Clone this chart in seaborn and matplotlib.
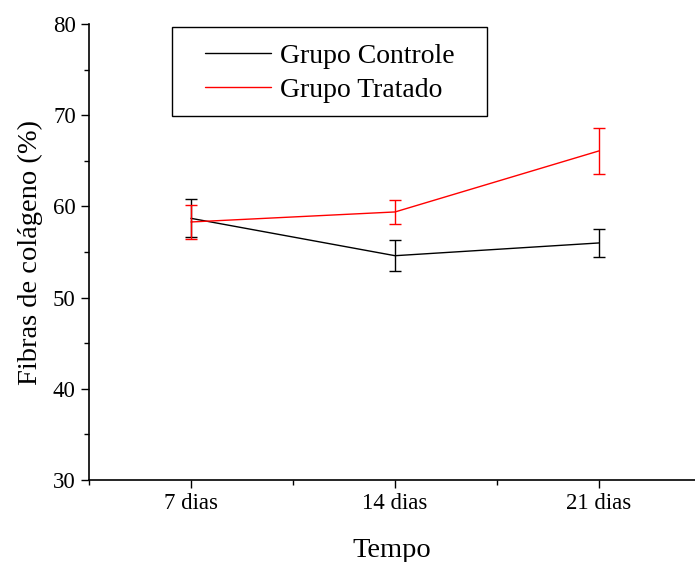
import matplotlib
matplotlib.use('Agg')
import matplotlib.pyplot as plt
import pandas as pd
import seaborn as sns
from matplotlib.patches import Rectangle
from matplotlib.ticker import MultipleLocator

tempos = ['7 dias', '14 dias', '21 dias']
controle_media = [58.7, 54.6, 56.0]
controle_erro = [2.1, 1.7, 1.5]
tratado_media = [58.3, 59.4, 66.1]
tratado_erro = [1.9, 1.3, 2.5]

df = pd.DataFrame({
    'pos': [1, 2, 3] * 2,
    'valor': controle_media + tratado_media,
    'erro': controle_erro + tratado_erro,
    'grupo': ['Grupo Controle'] * 3 + ['Grupo Tratado'] * 3,
})

sns.set_style('ticks')
plt.rcParams['font.family'] = ['Liberation Serif', 'DejaVu Serif']
plt.rcParams['text.color'] = 'black'
plt.rcParams['axes.labelcolor'] = 'black'
plt.rcParams['xtick.color'] = 'black'
plt.rcParams['ytick.color'] = 'black'

fig = plt.figure(figsize=(6.95, 5.62), dpi=100)
ax = fig.add_axes([0.128, 0.146, 0.872, 0.811])

cores = {'Grupo Controle': 'black', 'Grupo Tratado': 'red'}
sns.lineplot(data=df, x='pos', y='valor', hue='grupo', palette=cores,
             linewidth=1, ax=ax)
for grupo, sub in df.groupby('grupo'):
    ax.errorbar(sub['pos'], sub['valor'], yerr=sub['erro'], fmt='none',
                ecolor=cores[grupo], elinewidth=1, capsize=4.5, capthick=1)

ax.set_xlim(0.5, 3.47)
ax.set_ylim(30, 80)
ax.set_xticks([1, 2, 3])
ax.set_xticklabels(tempos)
ax.xaxis.set_minor_locator(MultipleLocator(0.5))
ax.yaxis.set_major_locator(MultipleLocator(10))
ax.yaxis.set_minor_locator(MultipleLocator(5))
ax.tick_params(axis='both', which='major', direction='out', length=6,
               width=1, labelsize=16.5, color='black')
ax.tick_params(axis='both', which='minor', direction='out', length=3.5,
               width=1, color='black')
for s in ['left', 'bottom']:
    ax.spines[s].set_linewidth(1.2)
    ax.spines[s].set_color('black')
sns.despine(ax=ax)

ax.set_xlabel('Tempo', fontsize=20.5, labelpad=17)
ax.set_ylabel('Fibras de colágeno (%)', fontsize=20.5, labelpad=7)

# legenda sem moldura + moldura desenhada à parte (padding horizontal maior)
leg = ax.legend(loc='upper left', bbox_to_anchor=(0.191, 0.958),
                borderaxespad=0, borderpad=0, fontsize=20, handlelength=2.4,
                frameon=False, labelspacing=0.3, handletextpad=0.32)
leg.set_title(None)
ax.add_patch(Rectangle((0.137, 0.798), 0.520, 0.195, transform=ax.transAxes,
                       fill=False, edgecolor='black', linewidth=1,
                       clip_on=False))

fig.savefig('out.png', dpi=100)
